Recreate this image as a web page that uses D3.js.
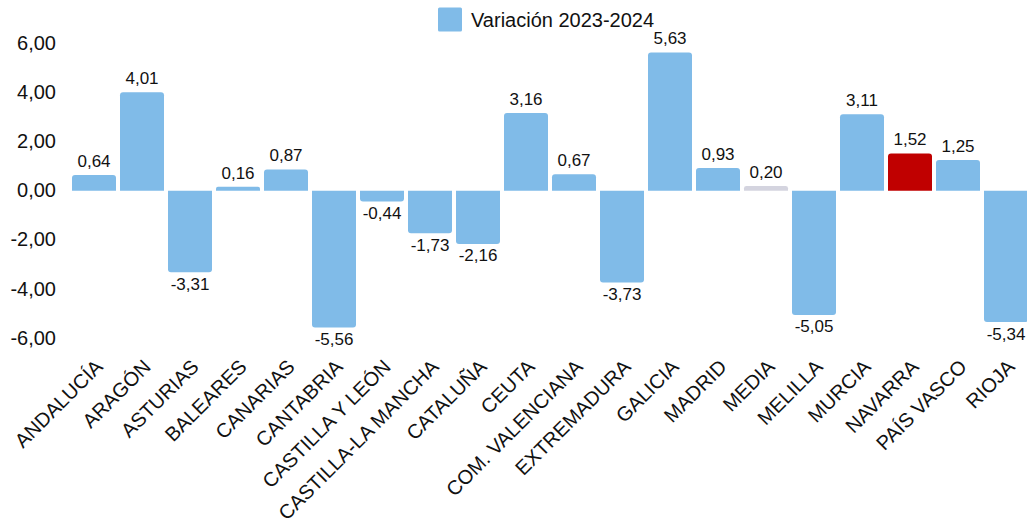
<!DOCTYPE html>
<html>
<head>
<meta charset="utf-8">
<script src="https://cdn.jsdelivr.net/npm/d3@7/dist/d3.min.js"></script>
<style>
  html, body { margin: 0; padding: 0; background: #fff; }
  svg { display: block; font-family: "Liberation Sans", Arial, Helvetica, sans-serif; }
</style>
</head>
<body>
<svg id="chart" width="1027" height="526"></svg>
<script>
const categories = ["ANDALUCÍA","ARAGÓN","ASTURIAS","BALEARES","CANARIAS","CANTABRIA","CASTILLA Y LEÓN","CASTILLA-LA MANCHA","CATALUÑA","CEUTA","COM. VALENCIANA","EXTREMADURA","GALICIA","MADRID","MEDIA","MELILLA","MURCIA","NAVARRA","PAÍS VASCO","RIOJA"];
const values = [0.64,4.01,-3.31,0.16,0.87,-5.56,-0.44,-1.73,-2.16,3.16,0.67,-3.73,5.63,0.93,0.20,-5.05,3.11,1.52,1.25,-5.34];
const yTicks = [-6,-4,-2,0,2,4,6];
const seriesName = "Variación 2023-2024";
const highlight = {"MEDIA": "#d4d4df", "NAVARRA": "#c00000"};
const baseColor = "#80bbe8";

const svg = d3.select("#chart");
const locale = d3.formatLocale({decimal: ",", thousands: ".", grouping: [3], currency: ["", "€"], minus: "-"});
const fmt = locale.format(".2f");

const x = d3.scaleBand().domain(categories).range([70, 1030])
  .paddingInner(4/48).paddingOuter(2/48);
const y = d3.scaleLinear().domain([-6, 6]).range([338.3, 43.3]);

// y axis labels
const yAxis = d3.axisLeft(y).tickValues(yTicks).tickFormat(fmt).tickSize(0).tickPadding(0);
const yg = svg.append("g").attr("transform", "translate(56,0)").call(yAxis);
yg.select(".domain").remove();
yg.selectAll("text").attr("font-size", 20).attr("fill", "#111")
  .attr("font-family", "Liberation Sans, Arial, sans-serif").attr("dy", "0.3em");

function barPath(d, i) {
  const x0 = x(categories[i]), w = x.bandwidth();
  const y0 = y(0), y1 = y(d);
  const r = Math.min(3, Math.abs(y1 - y0) / 2);
  if (d >= 0) {
    return `M${x0},${y0}V${y1 + r}Q${x0},${y1} ${x0 + r},${y1}H${x0 + w - r}Q${x0 + w},${y1} ${x0 + w},${y1 + r}V${y0}Z`;
  } else {
    return `M${x0},${y0}V${y1 - r}Q${x0},${y1} ${x0 + r},${y1}H${x0 + w - r}Q${x0 + w},${y1} ${x0 + w},${y1 - r}V${y0}Z`;
  }
}

svg.append("g").selectAll("path").data(values).join("path")
  .attr("d", barPath)
  .attr("fill", (d, i) => highlight[categories[i]] || baseColor);

// value labels
svg.append("g").selectAll("text").data(values).join("text")
  .attr("x", (d, i) => x(categories[i]) + x.bandwidth() / 2)
  .attr("y", d => d >= 0 ? y(d) - 8 : y(d) + 17.5)
  .attr("text-anchor", "middle")
  .attr("font-size", 17)
  .attr("fill", "#111")
  .text(d => fmt(d));

// x axis labels
const xAxis = d3.axisBottom(x).tickSize(0).tickPadding(0);
const xg = svg.append("g").call(xAxis);
xg.select(".domain").remove();
xg.selectAll(".tick").attr("transform", null);
xg.selectAll(".tick text")
  .attr("y", null).attr("dy", null)
  .attr("font-size", 20)
  .attr("fill", "#111")
  .attr("font-family", "Liberation Sans, Arial, sans-serif")
  .attr("text-anchor", "end")
  .attr("transform", d => `translate(${x(d) + x.bandwidth() / 2 + 10},368) rotate(-45)`);

// legend
const lg = svg.append("g");
lg.append("rect").attr("x", 438).attr("y", 7.5).attr("width", 24).attr("height", 24)
  .attr("rx", 1.5).attr("fill", baseColor);
lg.append("text").attr("x", 471).attr("y", 27).attr("font-size", 20).attr("fill", "#111")
  .text(seriesName);
</script>
</body>
</html>
